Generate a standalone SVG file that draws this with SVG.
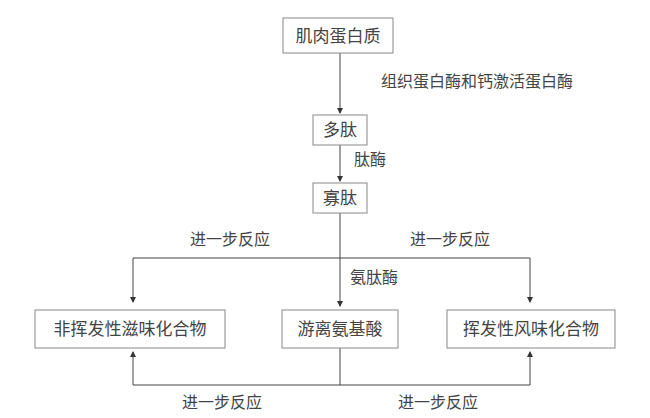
<svg xmlns="http://www.w3.org/2000/svg" width="650" height="418" viewBox="0 0 650 418">
<style>
.b{fill:#fff;stroke:#888;stroke-width:1}
.t{font-family:"Noto Sans CJK SC",sans-serif;font-size:17px;fill:#444;text-anchor:middle}
.l{font-family:"Noto Sans CJK SC",sans-serif;font-size:16px;fill:#444;text-anchor:middle}
.c{stroke:#444;stroke-width:1;fill:none}
</style>
<defs><marker id="a" markerWidth="6" markerHeight="6" refX="5" refY="3" orient="auto"><path d="M0,0L6,3L0,6z" fill="#333"/></marker></defs>
<rect width="650" height="418" fill="#fff"/>
<g id="connectors">
<path class="c" d="M340,53V113" marker-end="url(#a)"/>
<path class="c" d="M340,145V181" marker-end="url(#a)"/>
<path class="c" d="M340,213V306" marker-end="url(#a)"/>
<path class="c" d="M133,258H530"/>
<path class="c" d="M133,258V302" marker-end="url(#a)"/>
<path class="c" d="M530,258V302" marker-end="url(#a)"/>
<path class="c" d="M340,348V385"/>
<path class="c" d="M133,385H530"/>
<path class="c" d="M133,385V352" marker-end="url(#a)"/>
<path class="c" d="M530,385V352" marker-end="url(#a)"/>
</g>
<g id="n1"><rect class="b" x="283" y="18" width="110" height="35"/><text class="t" x="338" y="42">肌肉蛋白质</text></g>
<g id="n2"><rect class="b" x="313" y="115" width="54" height="30"/><text class="t" x="340" y="136">多肽</text></g>
<g id="n3"><rect class="b" x="313" y="183" width="54" height="30"/><text class="t" x="340" y="204">寡肽</text></g>
<g id="n4"><rect class="b" x="35" y="310" width="190" height="38"/><text class="t" x="130" y="335">非挥发性滋味化合物</text></g>
<g id="n5"><rect class="b" x="282" y="310" width="116" height="38"/><text class="t" x="340" y="335">游离氨基酸</text></g>
<g id="n6"><rect class="b" x="447" y="310" width="168" height="38"/><text class="t" x="531" y="335">挥发性风味化合物</text></g>
<g id="labels">
<text class="l" x="477" y="87">组织蛋白酶和钙激活蛋白酶</text>
<text class="l" x="370" y="165">肽酶</text>
<text class="l" x="230" y="245">进一步反应</text>
<text class="l" x="450" y="245">进一步反应</text>
<text class="l" x="374" y="283">氨肽酶</text>
<text class="l" x="222" y="408">进一步反应</text>
<text class="l" x="438" y="408">进一步反应</text>
</g>
</svg>
